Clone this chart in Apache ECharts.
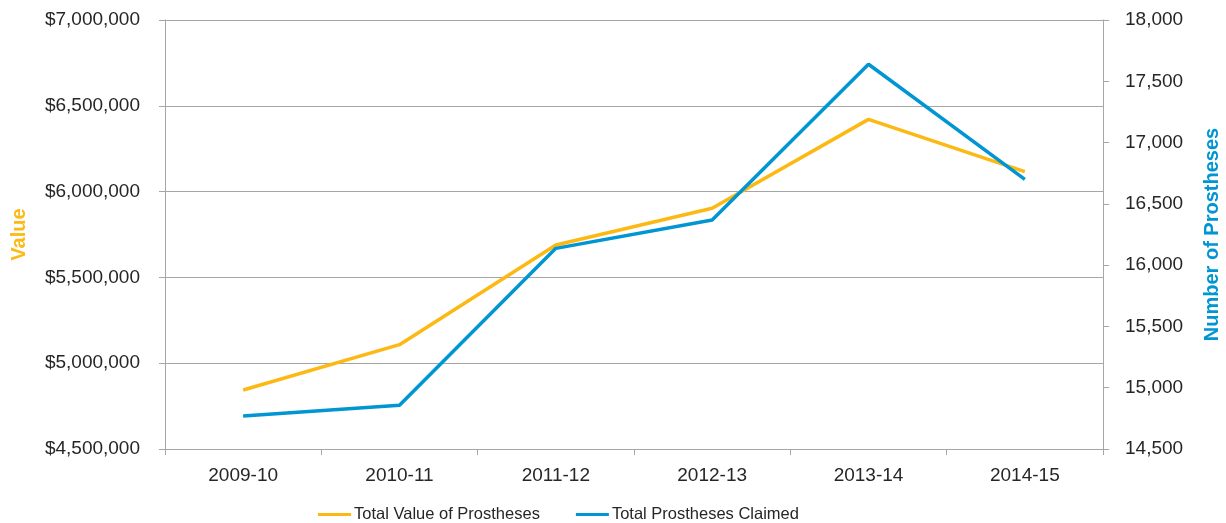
<!DOCTYPE html>
<html>
<head>
<meta charset="utf-8">
<script src="https://cdn.jsdelivr.net/npm/echarts@6/dist/echarts.min.js"></script>
<style>
  html, body { margin: 0; padding: 0; background: #fff; }
  #chart { width: 1226px; height: 523px; }
</style>
</head>
<body>
<div id="chart"></div>
<script>
const years = ['2009-10', '2010-11', '2011-12', '2012-13', '2013-14', '2014-15']
const totalValue = [4844000, 5108000, 5689000, 5903000, 6421000, 6116000]
const totalClaimed = [14769, 14857, 16137, 16368, 17639, 16700]

const fmt = (v) => v.toLocaleString('en-US')
const axisGrey = '#A6A6A6'
const orange = '#FDB913'
const blue = '#0095D3'

const chart = echarts.init(document.getElementById('chart'))

chart.setOption({
  backgroundColor: '#fff',
  animation: false,
  textStyle: { fontFamily: 'Liberation Sans, Arial, sans-serif' },
  grid: { left: 165, right: 123, top: 20, bottom: 74, containLabel: false, outerBoundsMode: 'none' },
  legend: {
    top: 506,
    left: 318,
    icon: 'rect',
    itemWidth: 33,
    itemHeight: 3,
    itemGap: 36,
    padding: 0,
    textStyle: { fontSize: 16.5, color: '#262626', padding: [0, 0, 0, -2] },
    data: ['Total Value of Prostheses', 'Total Prostheses Claimed'],
  },
  xAxis: {
    type: 'category',
    data: years,
    boundaryGap: true,
    axisLine: { lineStyle: { color: axisGrey, width: 1 } },
    axisTick: { show: true, length: 6, lineStyle: { color: axisGrey } },
    axisLabel: { fontSize: 19, color: '#262626', margin: 17 },
  },
  yAxis: [
    {
      type: 'value',
      min: 4500000,
      max: 7000000,
      interval: 500000,
      name: 'Value',
      nameLocation: 'middle',
      nameRotate: 90,
      nameGap: 136,
      nameTextStyle: { color: orange, fontWeight: 'bold', fontSize: 20 },
      axisLine: { show: true, lineStyle: { color: axisGrey } },
      axisTick: { show: true, length: 6, lineStyle: { color: axisGrey } },
      axisLabel: { fontSize: 19, color: '#262626', margin: 25, formatter: (v) => '$' + fmt(v) },
      splitLine: { show: true, lineStyle: { color: axisGrey, width: 1 } },
    },
    {
      type: 'value',
      min: 14500,
      max: 18000,
      interval: 500,
      position: 'right',
      name: 'Number of Prostheses',
      nameLocation: 'middle',
      nameRotate: 90,
      nameGap: 99,
      nameTextStyle: { color: blue, fontWeight: 'bold', fontSize: 20 },
      axisLine: { show: true, lineStyle: { color: axisGrey } },
      axisTick: { show: true, length: 6, lineStyle: { color: axisGrey } },
      axisLabel: { fontSize: 19, color: '#262626', margin: 22, formatter: (v) => fmt(v) },
      splitLine: { show: false },
    },
  ],
  series: [
    {
      name: 'Total Value of Prostheses',
      type: 'line',
      yAxisIndex: 0,
      data: totalValue,
      symbol: 'none',
      lineStyle: { color: orange, width: 3.5 },
      itemStyle: { color: orange },
    },
    {
      name: 'Total Prostheses Claimed',
      type: 'line',
      yAxisIndex: 1,
      data: totalClaimed,
      symbol: 'none',
      lineStyle: { color: blue, width: 3.5 },
      itemStyle: { color: blue },
    },
  ],
})

window.addEventListener('resize', () => chart.resize())
</script>
</body>
</html>
